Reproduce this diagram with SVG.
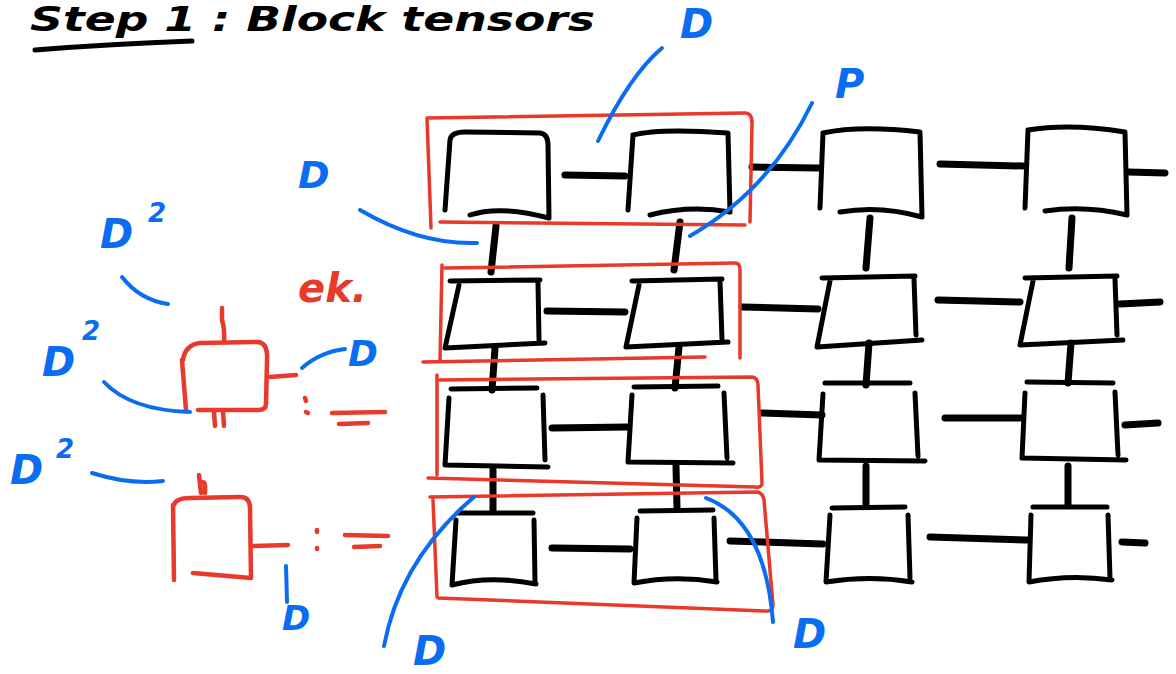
<svg xmlns="http://www.w3.org/2000/svg" width="1176" height="674" viewBox="0 0 1176 674">
<style>
.k{fill:none;stroke:#000;stroke-width:5;stroke-linecap:round;stroke-linejoin:round}
.b{fill:none;stroke:#000;stroke-width:7;stroke-linecap:round}
.r{fill:none;stroke:#e8392a;stroke-width:3.5;stroke-linecap:round;stroke-linejoin:round}
.rt{fill:none;stroke:#e8392a;stroke-width:4.5;stroke-linecap:round;stroke-linejoin:round}
.u{fill:none;stroke:#0a6cf0;stroke-width:4;stroke-linecap:round}
.lb{font-family:"DejaVu Sans",sans-serif;font-style:italic;font-weight:bold;fill:#0a6cf0}
.lr{font-family:"DejaVu Sans",sans-serif;font-style:italic;font-weight:bold;fill:#e8392a}
.t{font-family:"DejaVu Sans",sans-serif;font-style:italic;font-weight:bold;fill:#000}
</style>
<rect width="1176" height="674" fill="#fff"/>
<g id="title">
<text class="t" x="30" y="31" font-size="34" textLength="565" lengthAdjust="spacingAndGlyphs">Step 1 : Block tensors</text>
<path class="k" d="M35 50 Q110 44 192 41"/>
</g>
<g id="connectors">
<path class="b" d="M565 175 L625 176"/>
<path class="b" d="M752 167 L818 168"/>
<path class="b" d="M940 164 L1023 166"/>
<path class="b" d="M1128 172 L1165 173"/>
<path class="b" d="M547 311 L625 312"/>
<path class="b" d="M742 307 L818 309"/>
<path class="b" d="M938 300 L1020 302"/>
<path class="b" d="M1120 304 L1160 302"/>
<path class="b" d="M552 428 L628 427"/>
<path class="b" d="M762 413 L822 415"/>
<path class="b" d="M945 418 L1022 418"/>
<path class="b" d="M1125 425 L1158 423"/>
<path class="b" d="M552 548 L630 549"/>
<path class="b" d="M730 541 L823 544"/>
<path class="b" d="M930 537 L1027 540"/>
<path class="b" d="M1122 542 L1145 543"/>
<path class="b" d="M496 226 L491 272"/>
<path class="b" d="M495 348 L492 390"/>
<path class="b" d="M493 470 L493 510"/>
<path class="b" d="M680 222 L674 270"/>
<path class="b" d="M679 347 L675 388"/>
<path class="b" d="M676 466 L677 508"/>
<path class="b" d="M870 218 L866 268"/>
<path class="b" d="M869 343 L866 385"/>
<path class="b" d="M866 466 L866 506"/>
<path class="b" d="M1072 218 L1069 268"/>
<path class="b" d="M1071 343 L1068 383"/>
<path class="b" d="M1068 466 L1068 505"/>
</g>
<g id="tensors">
<g id="t11"><path class="k" d="M450 140 Q451 132 465 132 L540 133 Q548 134 548 145 L549 218 M470 215 Q500 205 549 218 M450 140 L445 210"/></g>
<g id="t12"><path class="k" d="M633 135 Q660 128 728 133 L730 212 M650 215 Q690 205 730 212 M633 135 L628 210"/></g>
<g id="t13"><path class="k" d="M823 133 Q860 125 920 132 L922 217 M840 212 Q880 205 922 217 M823 133 L820 208"/></g>
<g id="t14"><path class="k" d="M1028 130 Q1070 123 1125 132 L1127 215 M1045 211 Q1085 205 1127 215 M1028 130 L1025 208"/></g>
<g id="t21"><path class="k" d="M450 281 L540 280 M459 285 L445 348 L545 343 M538 282 L539 340"/></g>
<g id="t22"><path class="k" d="M632 281 L722 279 M639 285 L626 347 L728 342 M720 281 L722 340"/></g>
<g id="t23"><path class="k" d="M822 278 L915 276 M830 281 L817 347 L922 340 M914 279 L916 335"/></g>
<g id="t24"><path class="k" d="M1025 278 L1117 276 M1033 281 L1020 345 L1123 340 M1115 279 L1117 335"/></g>
<g id="t31"><path class="k" d="M451 389 L537 388 M449 398 L445 465 L548 467 M543 395 L545 460"/></g>
<g id="t32"><path class="k" d="M634 387 L718 386 M632 395 L628 462 L733 463 M724 393 L727 458"/></g>
<g id="t33"><path class="k" d="M825 383 L910 383 M823 394 L819 460 L925 461 M915 393 L918 456"/></g>
<g id="t34"><path class="k" d="M1027 382 L1113 383 M1025 393 L1022 458 L1126 460 M1115 392 L1118 455"/></g>
<g id="t41"><path class="k" d="M458 513 L533 513 M456 520 L452 585 Q490 575 536 584 M534 520 L535 582"/></g>
<g id="t42"><path class="k" d="M640 511 L713 510 M637 518 L634 583 Q675 575 717 582 M714 518 L716 580"/></g>
<g id="t43"><path class="k" d="M832 508 L905 507 M830 515 L826 582 Q870 575 912 582 M908 515 L910 578"/></g>
<g id="t44"><path class="k" d="M1033 507 L1107 507 M1031 515 L1029 582 Q1070 574 1112 580 M1108 515 L1110 578"/></g>
</g>
<g id="blocks">
<path class="r" d="M427 118 L745 113 Q752 113 752 123 L750 222 M440 222 L745 225 M427 118 L431 228"/>
<path class="r" d="M445 268 L735 263 Q740 263 740 270 L740 358 M423 362 L705 357 M442 265 L440 360"/>
<path class="r" d="M440 380 L752 377 Q758 378 758 385 L762 483 Q762 488 755 487 L428 478 M437 375 L437 475"/>
<path class="r" d="M430 497 L757 492 Q763 493 764 500 L773 605 Q773 612 765 611 L438 598 M433 500 L437 597"/>
</g>
<g id="legend">
<g id="red1">
<path class="rt" d="M183 360 Q185 345 200 343 L258 342 Q268 343 267 360 L266 404 Q266 410 258 410 L198 410 M182 360 L186 410"/>
<path class="rt" d="M222 308 L222 320 Q225 330 224 342"/>
<path class="rt" d="M214 412 L215 426 M223 412 L224 426"/>
<path class="rt" d="M270 377 L296 375"/>
</g>
<text class="lr" x="298" y="302" font-size="40">ek.</text>
<path class="rt" d="M305 398 L306 401 M306 412 L308 413"/>
<path class="rt" d="M332 413 L385 412 M339 424 L368 423"/>
<g id="red2">
<path class="rt" d="M174 505 Q176 498 190 498 L240 497 Q250 497 250 508 L251 578 L193 573 M173 505 L174 580"/>
<path class="rt" d="M199 475 L201 493 M201 484 Q206 478 205 493"/>
<path class="rt" d="M254 546 L288 545"/>
</g>
<path class="rt" d="M317 530 L317 532 M317 548 L317 549"/>
<path class="rt" d="M345 535 L388 536 M354 547 L380 546"/>
</g>
<g id="annotations">
<text class="lb" x="680" y="38" font-size="40">D</text>
<path class="u" d="M662 48 Q630 75 598 141"/>
<text class="lb" x="835" y="98" font-size="40">P</text>
<path class="u" d="M812 103 Q770 190 690 236"/>
<text class="lb" x="298" y="188" font-size="38">D</text>
<path class="u" d="M360 210 Q420 245 477 243"/>
<text class="lb" x="100" y="248" font-size="40">D</text>
<text class="lb" x="148" y="222" font-size="26">2</text>
<path class="u" d="M122 277 Q140 300 168 304"/>
<text class="lb" x="42" y="376" font-size="40">D</text>
<text class="lb" x="82" y="340" font-size="26">2</text>
<path class="u" d="M104 382 Q130 410 190 412"/>
<text class="lb" x="348" y="366" font-size="36">D</text>
<path class="u" d="M302 368 Q320 352 345 349"/>
<text class="lb" x="10" y="484" font-size="40">D</text>
<text class="lb" x="56" y="458" font-size="26">2</text>
<path class="u" d="M92 473 Q130 485 163 481"/>
<path class="u" d="M286 566 L287 602"/>
<text class="lb" x="282" y="630" font-size="34">D</text>
<path class="u" d="M474 497 Q400 560 384 646"/>
<text class="lb" x="413" y="665" font-size="40">D</text>
<path class="u" d="M706 498 Q765 520 773 622"/>
<text class="lb" x="793" y="648" font-size="40">D</text>
</g>
</svg>
